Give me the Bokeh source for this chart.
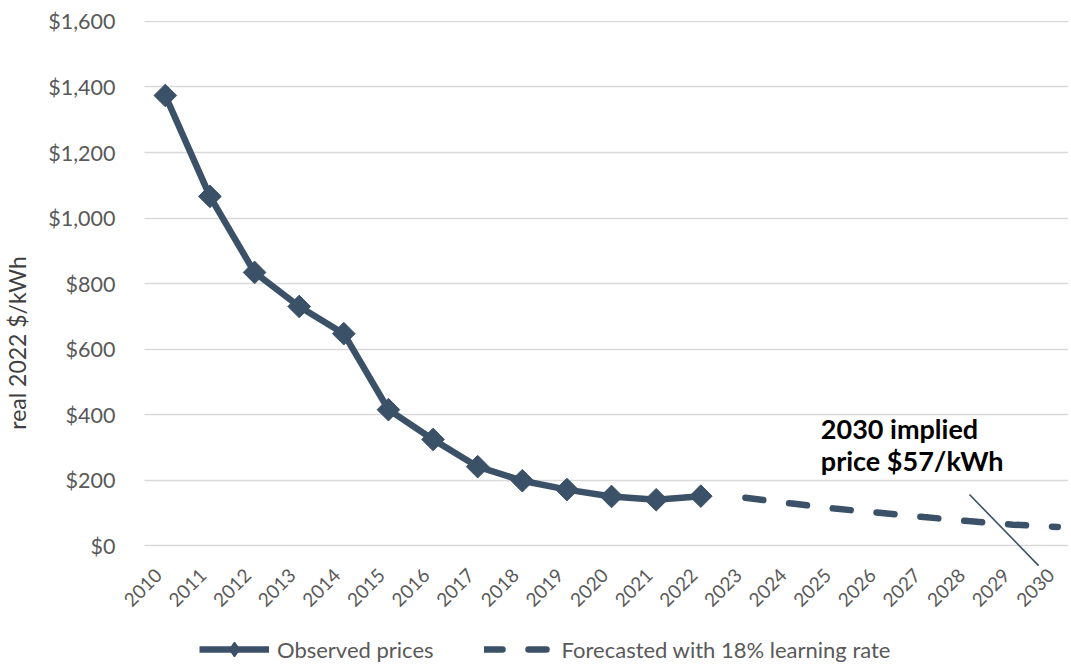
import math
import numpy as np
from bokeh.plotting import figure
from bokeh.models import (Range1d, FixedTicker, NumeralTickFormatter, Legend, LegendItem,
                          Label, Arrow, ColumnDataSource)
from bokeh.core.properties import value
from bokeh.embed import file_html
from bokeh.resources import INLINE

# ---- data ----
all_years = list(range(2010, 2031))
obs_years = list(range(2010, 2023))
obs_prices = [1374, 1066, 834, 730, 647, 415, 324, 241, 198, 171, 150, 140, 151]
fc_years = list(range(2023, 2031))
fc_prices = [146, 129, 113, 100, 87, 75, 64, 57]
y_ticks = [0, 200, 400, 600, 800, 1000, 1200, 1400, 1600]

annot_lines = ["2030 implied", "price $57/kWh"]
annot_x = 14.69
annot_y = [358, 260]
pointer = dict(x_start=18.02, y_start=156, x_end=19.57, y_end=-61)
xlabel_y = -80
plot_x_extent = (-0.47, 20.24)

COLOR = "#3b5168"
GRID = "#d9d9d9"
TXT = "#595959"
FONT = "Lato"

base = all_years[0]
obs_src = ColumnDataSource(dict(x=[y - base for y in obs_years], y=obs_prices))
fc_src = ColumnDataSource(dict(x=[y - base for y in fc_years], y=fc_prices))
lab_src = ColumnDataSource(dict(x=[y - base for y in all_years],
                                y=[xlabel_y] * len(all_years),
                                t=[str(y) for y in all_years]))

p = figure(width=1068, height=667, output_backend="svg", toolbar_location=None,
           x_range=Range1d(-0.937, 20.24), y_range=Range1d(-366, 1603),
           min_border_left=115, min_border_right=0, min_border_top=20, min_border_bottom=2)
p.outline_line_color = None
p.background_fill_color = "white"
p.xaxis.visible = False
p.xgrid.visible = False

ya = p.yaxis[0]
ya.ticker = FixedTicker(ticks=y_ticks)
ya.formatter = NumeralTickFormatter(format="$0,0")
ya.axis_line_color = None
ya.major_tick_line_color = None
ya.minor_tick_line_color = None
ya.major_label_text_font = FONT
ya.major_label_text_font_size = "21.5px"
ya.major_label_text_color = TXT
ya.major_label_standoff = 2
ya.axis_label = "real 2022 $/kWh"
ya.axis_label_text_font = FONT
ya.axis_label_text_font_style = "normal"
ya.axis_label_text_font_size = "23px"
ya.axis_label_text_color = "#404040"
ya.axis_label_standoff = 14

p.ygrid.grid_line_color = GRID
p.ygrid.grid_line_width = 1.3
p.ygrid.cross_bounds = plot_x_extent

# category labels (rotated)
p.text("x", "y", text="t", source=lab_src, angle=math.pi / 4, x_offset=-7,
       text_align="right", text_baseline="middle", text_font=value(FONT),
       text_font_size="19px", text_color=TXT)

# glyphs
fc_line = p.line("x", "y", source=fc_src, line_color=COLOR, line_width=6.5,
                 line_dash="18 26", line_cap="round")
obs_line = p.line("x", "y", source=obs_src, line_color=COLOR, line_width=6.5, line_join="round")
p.scatter("x", "y", source=obs_src, marker="square", angle=math.pi / 4, size=16,
          fill_color=COLOR, line_color=COLOR)
proxy = p.scatter(x=[np.nan], y=[np.nan], marker="diamond", size=14,
                  fill_color=COLOR, line_color=COLOR, line_width=1.5)

# annotation
for t, yy in zip(annot_lines, annot_y):
    p.add_layout(Label(x=annot_x, y=yy, text=t, text_font=FONT, text_font_style="bold",
                       text_font_size="27px", text_color="#000000",
                       text_align="left", text_baseline="alphabetic"))
p.add_layout(Arrow(end=None, line_color=COLOR, line_width=1.6, **pointer))

legend = Legend(items=[LegendItem(label="Observed prices", renderers=[obs_line, proxy]),
                       LegendItem(label="Forecasted with 18% learning rate", renderers=[fc_line])],
                orientation="horizontal", location=(76, -2), glyph_width=70, glyph_height=36,
                label_height=36, label_standoff=8, spacing=50, padding=0, margin=0,
                border_line_color=None, background_fill_alpha=0,
                label_text_font=FONT, label_text_font_size="22px", label_text_color=TXT)
p.add_layout(legend)

open("out.html", "w").write(file_html(p, INLINE))
